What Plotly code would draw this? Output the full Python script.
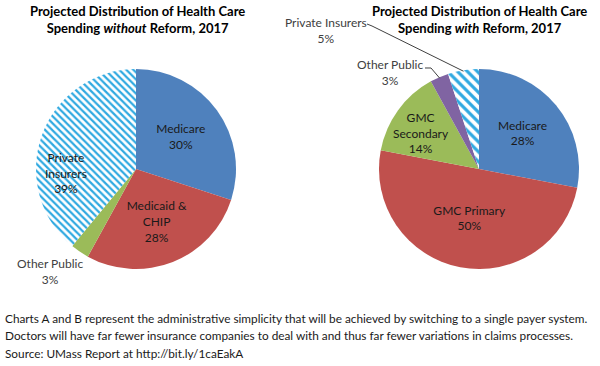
import math
import plotly.graph_objects as go

# ---- data ----
left_labels = ["Medicare", "Medicaid &<br>CHIP", "Other Public", "Private<br>Insurers"]
left_values = [30, 28, 3, 39]
right_labels = ["Medicare", "GMC Primary", "GMC<br>Secondary", "Other Public", "Private Insurers"]
right_values = [28, 50, 14, 3, 5]

left_title = "<b>Projected Distribution of Health Care<br>Spending <i>without</i> Reform, 2017</b>"
right_title = "<b>Projected Distribution of Health Care<br>Spending <i>with</i> Reform, 2017</b>"
footnote_lines = [
    "Charts A and B represent the administrative simplicity that will be achieved by switching to a single payer system.",
    "Doctors will have far fewer insurance companies to deal with and thus far fewer variations in claims processes.",
    "Source: UMass Report at http://bit.ly/1caEakA",
]

BLUE, RED, GREEN, PURPLE = "#4F81BD", "#C0504D", "#9BBB59", "#8064A2"
HATCH_BG, HATCH_FG = "#B3DDF3", "#2FA9E1"
FONT = "Lato"
W, H = 600, 366

fig = go.Figure()

def pie(labels, values, colors, shapes, inside, domain, size):
    texts = ["%{label}<br>%{percent:.0%}" if s else "" for s in inside]
    fig.add_trace(go.Pie(
        labels=labels, values=values, sort=False, direction="clockwise", rotation=0,
        domain=domain, textinfo="text", texttemplate=texts,
        textposition=["inside" if s else "none" for s in inside],
        insidetextorientation="horizontal",
        textfont=dict(family=FONT, size=12, color="#1a1a1a"),
        marker=dict(colors=colors, line=dict(width=0),
                    pattern=dict(shape=shapes, fgcolor=HATCH_FG, size=size, solidity=0.45)),
        hoverinfo="skip", showlegend=False,
    ))

# pixel geometry of the two pies
L_CX, L_CY, R_CX, R_CY, RAD = 136, 169, 479, 169, 100
def dom(cx, cy):
    return dict(x=[(cx - RAD) / W, (cx + RAD) / W], y=[1 - (cy + RAD) / H, 1 - (cy - RAD) / H])

pie(left_labels, left_values, [BLUE, RED, GREEN, HATCH_BG], ["", "", "", "\\"],
    [True, True, False, False], dom(L_CX, L_CY), 5)
pie(right_labels, right_values, [BLUE, RED, GREEN, PURPLE, HATCH_BG], ["", "", "", "", "\\"],
    [True, True, False, False, False], dom(R_CX, R_CY), 7)

def px(x, y):
    return x / W, 1 - y / H

def slice_edge(values, idx, cx, cy, r=RAD):
    tot = sum(values)
    mid = (sum(values[:idx]) + values[idx] / 2) / tot * 2 * math.pi
    return cx + r * math.sin(mid), cy - r * math.cos(mid)

ann = []
def label(cx, cy, text, font, xanchor="center", align="center"):
    x, y = px(cx, cy)
    ann.append(dict(x=x, y=y, xref="paper", yref="paper", text=text, showarrow=False, font=font,
                    xanchor=xanchor, yanchor="middle", align=align))

tfont = dict(family=FONT, size=13, color="#000000")
label(137, 20, left_title, tfont)
label(479, 20, right_title, tfont)

ifont = dict(family=FONT, size=12, color="#1a1a1a")
label(66, 173, f"{left_labels[3]}<br>{left_values[3]}%", ifont)
label(421, 133, f"{right_labels[2]}<br>{right_values[2]}%", ifont)

ofont = dict(family=FONT, size=12, color="#404040")
label(50, 271, f"{left_labels[2]}<br>{left_values[2]}%", ofont)
label(326, 31, f"{right_labels[4]}<br>{right_values[4]}%", ofont)
label(390, 72, f"{right_labels[3]}<br>{right_values[3]}%", ofont)

ffont = dict(family=FONT, size=11.8, color="#1a1a1a")
for i, line in enumerate(footnote_lines):
    label(3, 318 + 17.5 * i, line, ffont, xanchor="left", align="left")

shapes = []
def leader(p0, p1, tip):
    pts = [px(*p0), px(*p1), px(*tip)]
    shapes.append(dict(type="path", xref="paper", yref="paper",
                       path="M %f %f L %f %f L %f %f" % (pts[0][0], pts[0][1], pts[1][0], pts[1][1],
                                                         pts[2][0], pts[2][1]),
                       line=dict(color="#404040", width=1)))

leader((367, 24), (372, 26), slice_edge(right_values, 4, R_CX, R_CY, RAD - 1))
leader((425, 68), (431, 68), slice_edge(right_values, 3, R_CX, R_CY, RAD - 1))

fig.update_layout(width=W, height=H, margin=dict(l=0, r=0, t=0, b=0),
                  paper_bgcolor="white", plot_bgcolor="white",
                  annotations=ann, shapes=shapes, font=dict(family=FONT))
fig.write_html("out.html", post_script="document.body.style.margin='0';",
               config={"displayModeBar": False})
